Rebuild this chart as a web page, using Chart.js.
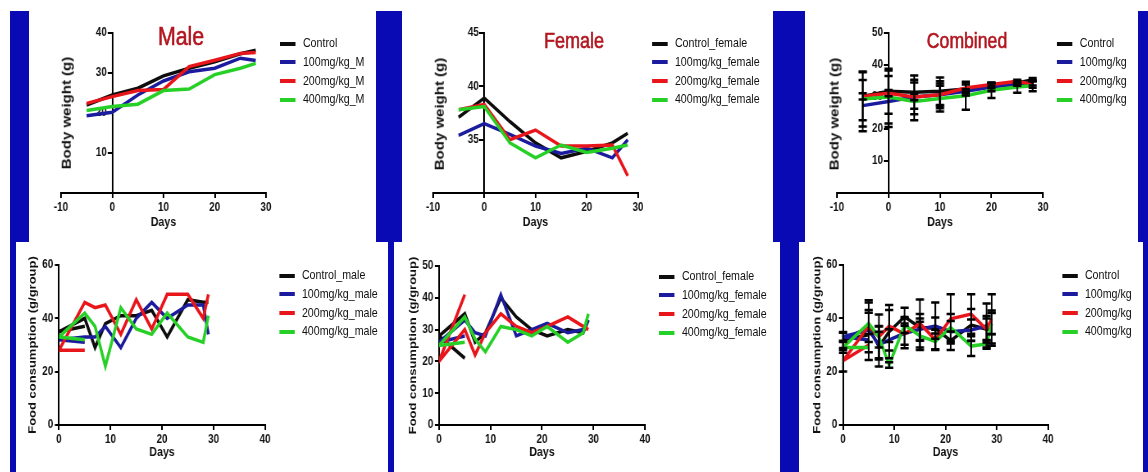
<!DOCTYPE html>
<html>
<head>
  <title>Body weight and food consumption</title>
  <script src="https://cdn.jsdelivr.net/npm/chart.js@4.4.1/dist/chart.umd.min.js"></script>
  <style>
    body {
      margin: 0;
      width: 1148px;
      height: 472px;
      position: relative;
      overflow: hidden;
      background: #fff;
      font-family: "Liberation Sans", Arial, sans-serif;
      color: #111;
    }
    .bar { position: absolute; background: #0a0ab4; z-index: 2; }
    /* the original figure is squeezed horizontally, so every panel is too */
    .panel {
      position: absolute;
      overflow: hidden;
      transform: scaleX(0.82);
      transform-origin: 0 0;
    }
    .panel canvas { position: absolute; left: 0; top: 0; }
    .title {
      position: absolute;
      color: #b3161f;
      -webkit-text-stroke: 0.6px #b3161f;
      line-height: 1;
      white-space: nowrap;
      transform: translateX(-50%);
    }
    .ytitle {
      position: absolute;
      font-weight: bold;
      font-size: 15px;
      line-height: 1;
      white-space: nowrap;
      transform: translate(-50%, -50%) rotate(-90deg);
    }
    .legend { position: absolute; font-size: 13px; white-space: nowrap; }
    .legend div { height: 18.8px; line-height: 18.8px; }
    .legend i { display: inline-block; width: 19px; height: 4px; margin-right: 9px; vertical-align: middle; }
  </style>
</head>
<body>
  <div class="bar" style="left:10px;top:11px;width:19px;height:231px"></div>
  <div class="bar" style="left:376px;top:11px;width:26px;height:231px"></div>
  <div class="bar" style="left:773px;top:11px;width:32px;height:231px"></div>
  <div class="bar" style="left:1138px;top:11px;width:10px;height:231px"></div>
  <div class="bar" style="left:10px;top:242px;width:6px;height:230px"></div>
  <div class="bar" style="left:388px;top:242px;width:6px;height:230px"></div>
  <div class="bar" style="left:780px;top:242px;width:19px;height:230px"></div>
  <div class="bar" style="left:1143px;top:242px;width:5px;height:230px"></div>

  <script>
    // ---- values ----
    const bwDays = [-5, 0, 5, 10, 15, 20, 25, 28];
    const fcDays = [5, 0, 5, 7, 9, 12, 15, 18, 21, 25, 28, 29];

    const bwDayTicks = [-10, 0, 10, 20, 30];
    const fcDayTicks = [0, 10, 20, 30, 40];
    const bwMaleTicks = [0, 10, 20, 30, 40];
    const bwFemaleTicks = [30, 35, 40, 45];
    const bwCombinedTicks = [0, 10, 20, 30, 40, 50];
    const fcMaleTicks = [0, 20, 40, 60];
    const fcFemaleTicks = [0, 10, 20, 30, 40, 50];
    const fcCombinedTicks = [0, 20, 40, 60];

    const maleLabels = ['Control', '100mg/kg_M', '200mg/kg_M', '400mg/kg_M'];
    const femaleLabels = ['Control_female', '100mg/kg_female', '200mg/kg_female', '400mg/kg_female'];
    const combinedLabels = ['Control', '100mg/kg', '200mg/kg', '400mg/kg'];
    const fcMaleLabels = ['Control_male', '100mg/kg_male', '200mg/kg_male', '400mg/kg_male'];

    // body weight (g)
    const bwMaleControl = [22.0, 24.5, 26.2, 29.3, 31.2, 32.8, 34.8, 35.7];
    const bwMale100 = [19.3, 20.2, 24.5, 28.0, 30.3, 31.2, 33.7, 33.1];
    const bwMale200 = [22.4, 24.1, 25.6, 25.9, 31.6, 33.2, 34.9, 35.1];
    const bwMale400 = [20.6, 21.6, 22.2, 25.6, 26.0, 29.6, 31.2, 32.4];

    const bwFemaleControl = [37.1, 38.9, 36.7, 34.7, 33.3, 33.9, 34.7, 35.6];
    const bwFemale100 = [35.4, 36.5, 35.5, 34.4, 33.7, 34.2, 33.3, 35.0];
    const bwFemale200 = [37.8, 38.3, 35.0, 35.9, 34.4, 34.4, 34.5, 31.6];
    const bwFemale400 = [37.8, 38.1, 34.7, 33.3, 34.5, 33.8, 34.2, 34.5];

    const bwAllControl = [30.2, 31.8, 31.5, 31.8, 32.5, 33.5, 34.4, 35.4];
    const bwAll100 = [27.3, 28.6, 30.0, 30.7, 31.8, 33.1, 34.0, 34.4];
    const bwAll200 = [30.2, 31.2, 30.0, 30.7, 32.8, 33.9, 34.9, 33.9];
    const bwAll400 = [29.4, 30.0, 28.6, 29.5, 30.4, 32.1, 33.1, 33.5];
    const bwAllControlSd = [7.5, 7.0, 5.2, 4.3, 2.0, 0.8, 0.5, 0.5];
    const bwAll100Sd = [8.0, 8.0, 1.0, 3.5, 0.6, 1.3, 0.5, 0.8];
    const bwAll200Sd = [1.0, 1.0, 5.4, 4.2, 1.1, 0.5, 0.5, 1.0];
    const bwAll400Sd = [8.6, 8.3, 5.9, 4.0, 4.4, 2.4, 1.8, 1.7];

    // food consumption (g/group)
    const fcMaleControl = [37, 35, 40, 29, 38, 41, 41, 43, 33, 47, 46, 46];
    const fcMale100 = [31, 32, 33, 33, 37, 29, 40, 46, 40, 45, 45, 34];
    const fcMale200 = [28, 28, 46, 44, 45, 34, 47, 36, 49, 49, 40, 49];
    const fcMale400 = [32, 33, 42, 37, 22, 44, 36, 34, 42, 33, 31, 41];

    const fcFemaleControl = [21, 28, 35, 26, 29, 40, 34, 30, 28, 30, 29, 33];
    const fcFemale100 = [28, 26, 33, 29, 28, 41, 28, 30, 32, 29, 30, 33];
    const fcFemale200 = [41, 20, 30, 22, 29, 35, 31, 29, 31, 34, 31, 30];
    const fcFemale400 = [26, 25, 34, 27, 23, 31, 30, 28, 31, 26, 29, 35];

    const fcAllControl = [33.8, 31.9, 36.6, 29.4, 35.0, 40.6, 36.6, 36.3, 31.6, 37.5, 35.9, 36.3];
    const fcAll100 = [31.9, 33.1, 35.6, 30.0, 31.9, 34.4, 35.9, 37.1, 35.0, 35.6, 37.1, 38.1];
    const fcAll200 = [30.0, 24.1, 37.1, 33.1, 37.1, 34.1, 38.1, 31.9, 39.8, 41.6, 35.9, 39.8];
    const fcAll400 = [29.1, 29.1, 38.1, 33.0, 22.5, 37.5, 33.4, 31.3, 36.6, 29.6, 30.4, 38.0];
    const fcAllControlSd = [0, 3.0, 9.3, 7.5, 10.0, 3.4, 5.0, 4.0, 3.5, 6.0, 5.0, 6.6];
    const fcAll100Sd = [0, 1.5, 11.2, 5.0, 4.0, 5.6, 4.0, 8.8, 4.0, 4.0, 8.5, 4.0];
    const fcAll200Sd = [0, 4.0, 6.0, 4.0, 6.0, 4.0, 9.0, 3.8, 9.2, 7.4, 4.0, 9.2];
    const fcAll400Sd = [0, 2.0, 4.0, 8.4, 1.0, 3.0, 5.3, 3.0, 5.0, 3.7, 1.3, 4.0];

    const colors = ['#0d0d0d', '#1b1b9e', '#e8151b', '#27d027'];
    const FONT = "'Liberation Sans', Arial, sans-serif";
    Chart.defaults.font.family = FONT;

    // black SD bars with caps, drawn through the chart's own scales
    const errorBars = {
      id: 'errorBars',
      afterDatasetsDraw(chart) {
        const { ctx, scales: { x, y } } = chart;
        ctx.save();
        ctx.strokeStyle = '#000';
        chart.data.datasets.forEach(ds => {
          if (!ds.sd) return;
          ds.data.forEach((pt, i) => {
            const e = ds.sd[i];
            if (!e) return;
            const px = x.getPixelForValue(pt.x);
            const top = y.getPixelForValue(pt.y + e);
            const bot = y.getPixelForValue(pt.y - e);
            ctx.lineWidth = 2;
            ctx.beginPath();
            ctx.moveTo(px, top);
            ctx.lineTo(px, bot);
            ctx.stroke();
            ctx.lineWidth = 2.5;
            ctx.beginPath();
            ctx.moveTo(px - 5, top); ctx.lineTo(px + 5, top);
            ctx.moveTo(px - 5, bot); ctx.lineTo(px + 5, bot);
            ctx.stroke();
          });
        });
        ctx.restore();
      }
    };

    const panels = [
      { left: 29, top: 11, w: 423, h: 231, pad: { left: 39, right: 134, top: 22, bottom: 12 }, xH: 37,
        days: bwDays, xTicks: bwDayTicks, yTicks: bwMaleTicks, crossAtZero: true,
        labels: maleLabels, series: [bwMaleControl, bwMale100, bwMale200, bwMale400],
        title: 'Male', titleSize: 26, titleX: 185.4, titleTop: 12,
        yTitle: 'Body weight (g)', yTitleX: 46.3, yTitleY: 102 },
      { left: 402, top: 11, w: 452, h: 231, pad: { left: 37.8, right: 164.2, top: 22, bottom: 12 }, xH: 37,
        days: bwDays, xTicks: bwDayTicks, yTicks: bwFemaleTicks, crossAtZero: true,
        labels: femaleLabels, series: [bwFemaleControl, bwFemale100, bwFemale200, bwFemale400],
        title: 'Female', titleSize: 22, titleX: 209.8, titleTop: 19.4,
        yTitle: 'Body weight (g)', yTitleX: 46.3, yTitleY: 102.5 },
      { left: 805, top: 11, w: 406, h: 231, pad: { left: 39, right: 115.8, top: 22, bottom: 12 }, xH: 37,
        days: bwDays, xTicks: bwDayTicks, yTicks: bwCombinedTicks, crossAtZero: true,
        labels: combinedLabels, series: [bwAllControl, bwAll100, bwAll200, bwAll400],
        sd: [bwAllControlSd, bwAll100Sd, bwAll200Sd, bwAll400Sd],
        title: 'Combined', titleSize: 21.5, titleX: 197.6, titleTop: 19.8,
        yTitle: 'Body weight (g)', yTitleX: 36, yTitleY: 103 },
      { left: 16, top: 242, w: 454, h: 230, pad: { left: 12.9, right: 150.3, top: 23, bottom: 12 }, xH: 35, yW: 39.5,
        days: fcDays, xTicks: fcDayTicks, yTicks: fcMaleTicks,
        labels: fcMaleLabels, series: [fcMaleControl, fcMale100, fcMale200, fcMale400],
        axisYTitle: 'Food consumption (g/group)' },
      { left: 394, top: 242, w: 471, h: 230, pad: { left: 15.4, right: 164.9, top: 24, bottom: 12 }, xH: 35, yW: 39.5,
        days: fcDays, xTicks: fcDayTicks, yTicks: fcFemaleTicks,
        labels: femaleLabels, series: [fcFemaleControl, fcFemale100, fcFemale200, fcFemale400],
        axisYTitle: 'Food consumption (g/group)' },
      { left: 799, top: 242, w: 420, h: 230, pad: { left: 14.2, right: 116.3, top: 23, bottom: 12 }, xH: 35, yW: 39.5,
        days: fcDays, xTicks: fcDayTicks, yTicks: fcCombinedTicks,
        labels: combinedLabels, series: [fcAllControl, fcAll100, fcAll200, fcAll400],
        sd: [fcAllControlSd, fcAll100Sd, fcAll200Sd, fcAll400Sd],
        axisYTitle: 'Food consumption (g/group)' }
    ];

    function axisBase(ticks) {
      return {
        type: 'linear',
        min: ticks[0],
        max: ticks[ticks.length - 1],
        border: { display: true, color: '#000', width: 2 },
        grid: { display: true, drawOnChartArea: false, drawTicks: true, tickLength: 5, color: '#000', lineWidth: 2 },
        ticks: { stepSize: ticks[1] - ticks[0], color: '#111', padding: 2, font: { size: 12, weight: 'bold' } }
      };
    }

    function buildPanel(p) {
      const box = document.createElement('div');
      box.className = 'panel';
      box.style.left = p.left + 'px';
      box.style.top = p.top + 'px';
      box.style.width = p.w + 'px';
      box.style.height = p.h + 'px';
      document.body.appendChild(box);

      const canvas = document.createElement('canvas');
      canvas.width = p.w;
      canvas.height = p.h;
      box.appendChild(canvas);

      const datasets = p.series.map((vals, i) => ({
        label: p.labels[i],
        data: p.days.map((d, j) => ({ x: d, y: vals[j] })),
        sd: p.sd ? p.sd[i] : null,
        borderColor: colors[i],
        backgroundColor: colors[i],
        borderWidth: 3.5,
        pointRadius: 0,
        tension: 0,
        order: 3 - i
      }));

      const x = axisBase(p.xTicks);
      x.position = 'bottom';
      x.title = { display: true, text: 'Days', color: '#111', padding: 0, font: { size: 13, weight: 'bold' } };
      x.afterFit = s => { s.height = p.xH; };

      const y = axisBase(p.yTicks);
      if (p.crossAtZero) {
        // axis crosses at day 0; labels sit right on the line there, so pad them with spaces
        y.position = { x: 0 };
        y.ticks.callback = v => (v === p.yTicks[0] ? '' : v + '  ');
      } else {
        y.position = 'left';
        y.title = { display: true, text: p.axisYTitle, color: '#111', padding: 0, font: { size: 13, weight: 'bold' } };
        y.afterFit = s => { s.width = p.yW; };
      }

      const chart = new Chart(canvas, {
        type: 'line',
        data: { datasets },
        options: {
          responsive: false,
          animation: false,
          layout: { padding: p.pad },
          scales: { x, y },
          plugins: { legend: { display: false }, tooltip: { enabled: false } }
        },
        plugins: p.sd ? [errorBars] : []
      });

      // html legend built from the chart's own legend items
      const ca = chart.chartArea;
      const legend = document.createElement('div');
      legend.className = 'legend';
      legend.style.left = (ca.right + 17) + 'px';
      legend.style.top = (ca.top + 1.1) + 'px';
      chart.options.plugins.legend.labels.generateLabels(chart)
        .sort((a, b) => a.datasetIndex - b.datasetIndex)
        .forEach(item => {
          const row = document.createElement('div');
          const sw = document.createElement('i');
          sw.style.background = item.fillStyle;
          row.appendChild(sw);
          row.appendChild(document.createTextNode(item.text));
          legend.appendChild(row);
        });
      box.appendChild(legend);

      if (p.title) {
        const t = document.createElement('div');
        t.className = 'title';
        t.textContent = p.title;
        t.style.fontSize = p.titleSize + 'px';
        t.style.left = p.titleX + 'px';
        t.style.top = p.titleTop + 'px';
        box.appendChild(t);
      }
      if (p.yTitle) {
        const yt = document.createElement('div');
        yt.className = 'ytitle';
        yt.textContent = p.yTitle;
        yt.style.left = p.yTitleX + 'px';
        yt.style.top = p.yTitleY + 'px';
        box.appendChild(yt);
      }
    }

    panels.forEach(buildPanel);
  </script>
</body>
</html>
